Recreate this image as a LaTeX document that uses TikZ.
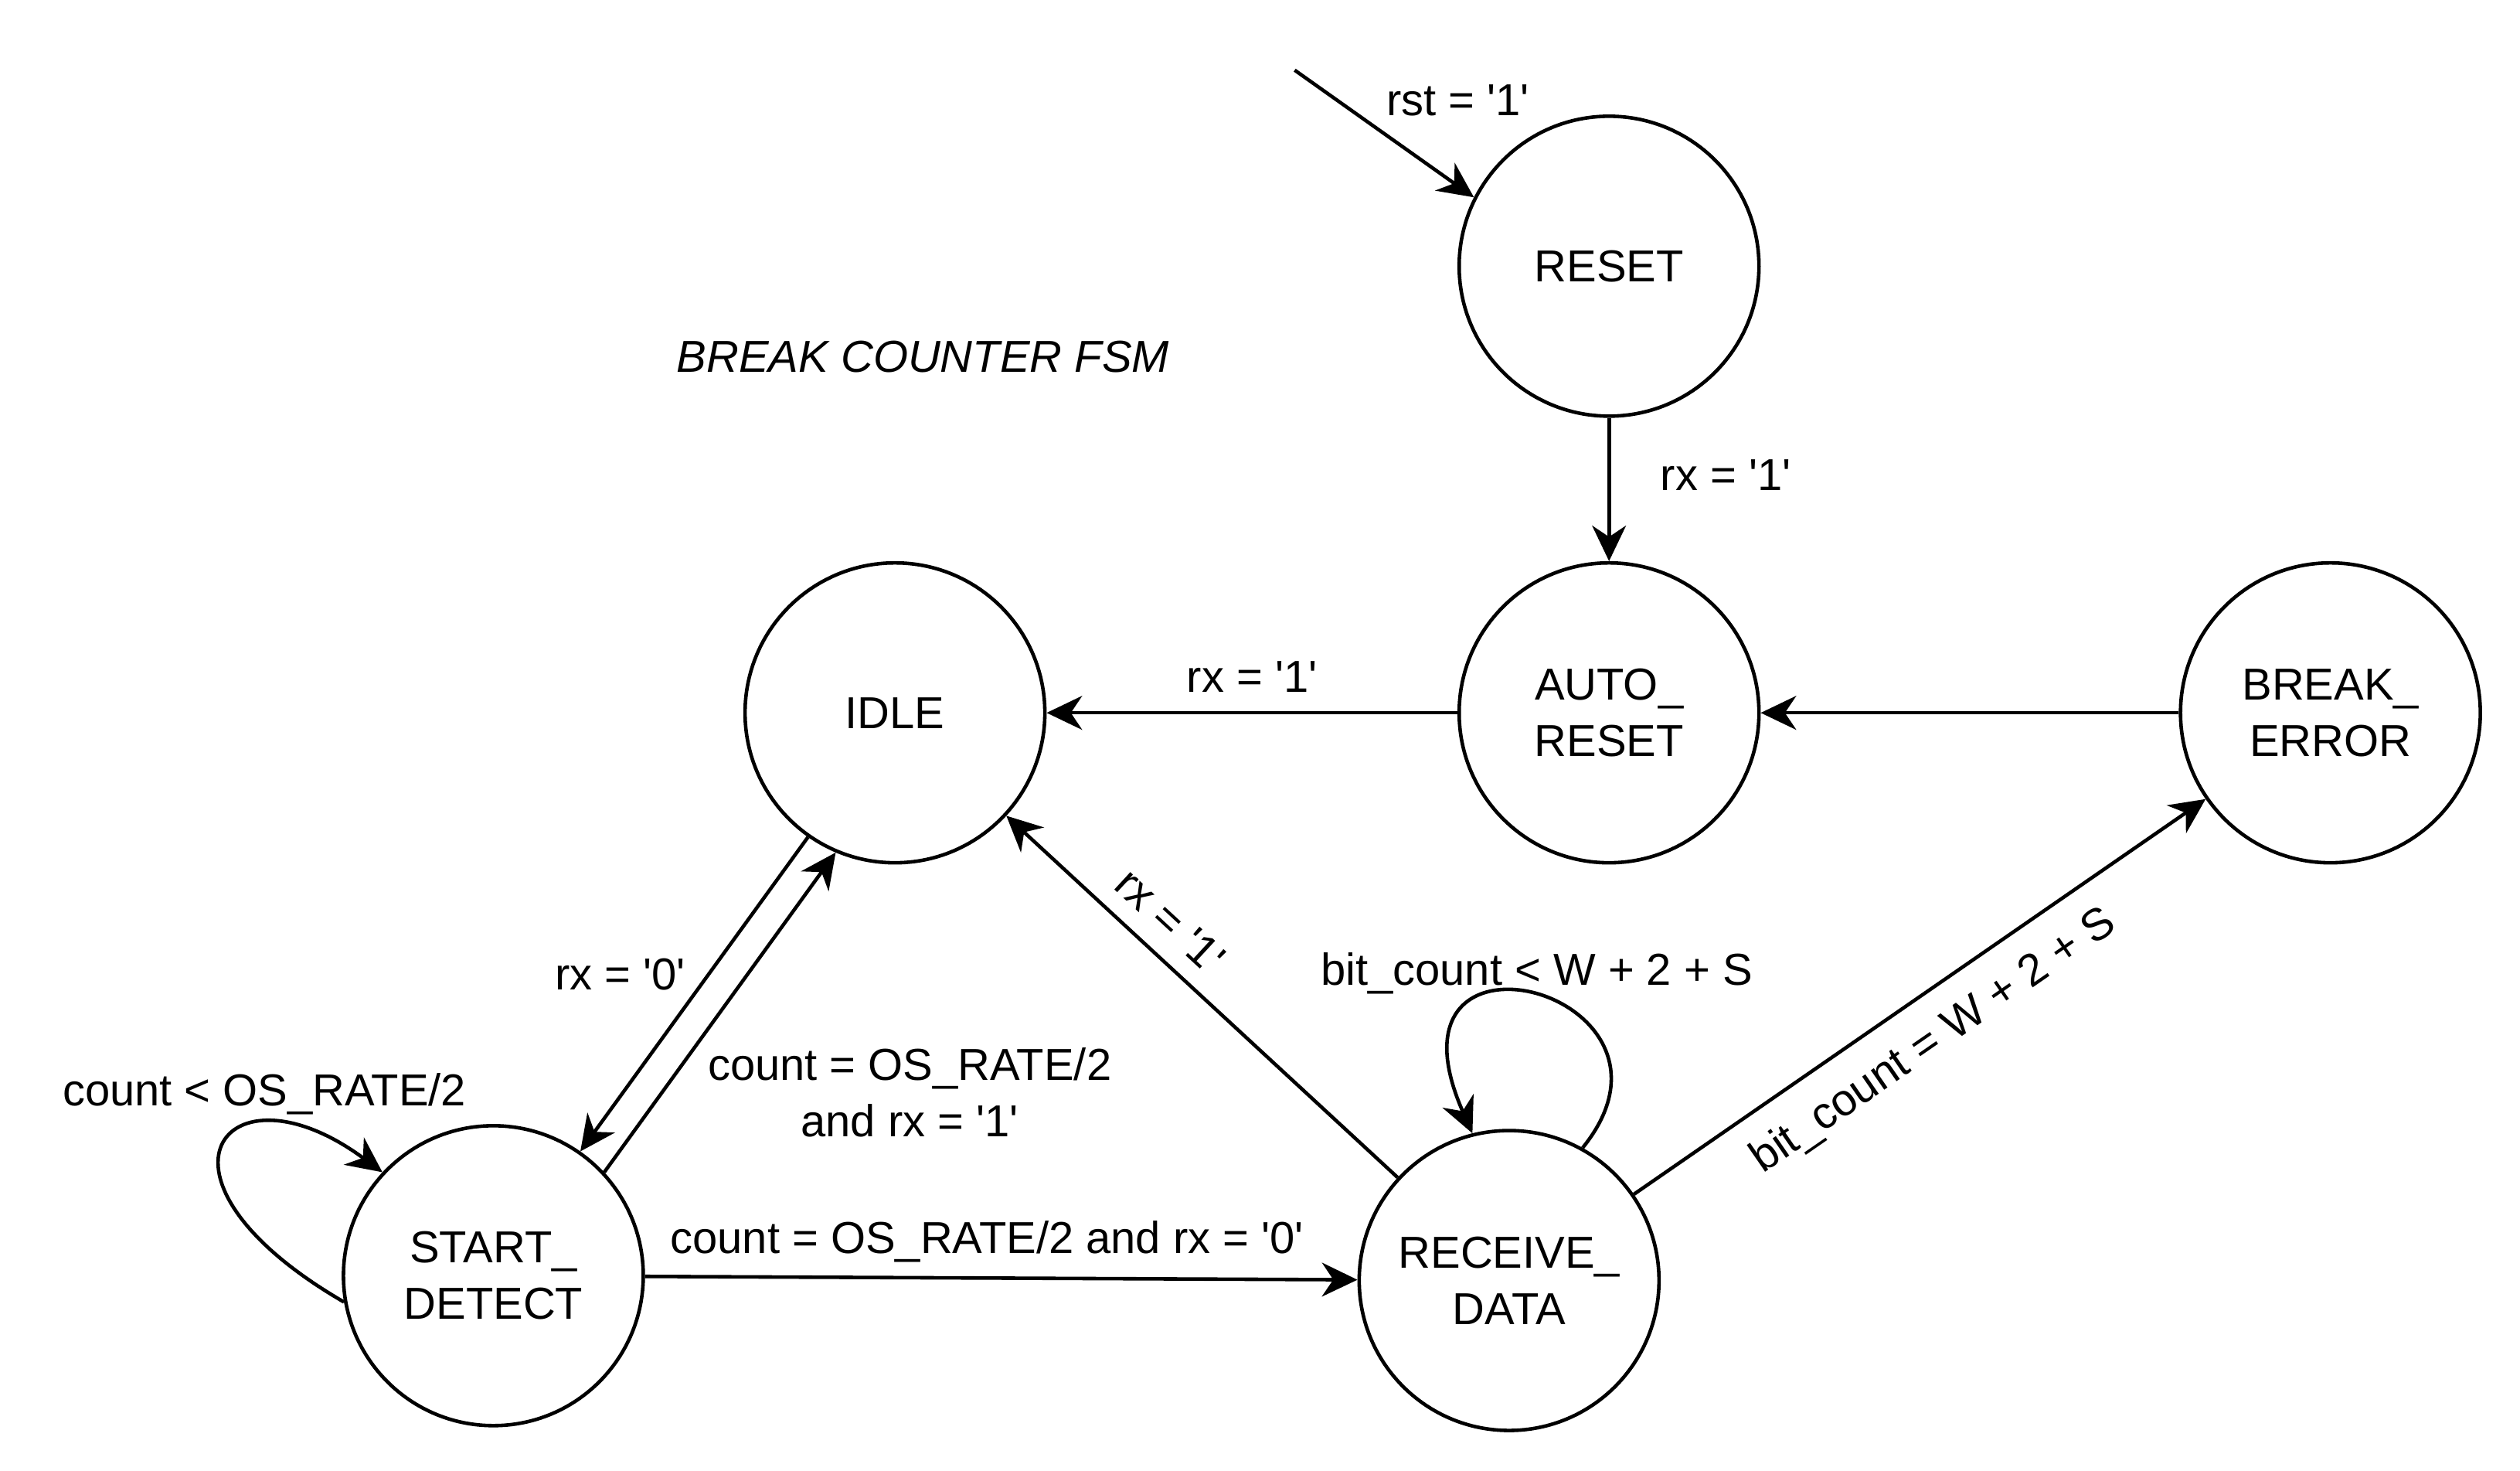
\documentclass[tikz,border=0pt]{standalone}
\usepackage{fontspec}
\setmainfont{Liberation Sans}
\usetikzlibrary{arrows.meta,positioning}
\newcommand{\sq}{\textquotesingle}

\begin{document}
\begin{tikzpicture}[x=0.02cm, y=-0.02cm, node distance=5.54cm, line width=1.25pt,
		font=\fontsize{15.8}{20}\selectfont,
		state/.style = {draw, circle, minimum size=3.72cm, inner sep=0pt, align=center},
		arr/.style = {-{Stealth[length=0.44cm, width=0.42cm, inset=0.14cm]}}]
			\useasboundingbox (0,0) rectangle (1563,912);
			\node (title) at (572.5,221) {\itshape BREAK COUNTER FSM};
			\node[state] (auto) at (998,442) {AUTO\_\\RESET};
			\node[state] (reset) [above of=auto] {RESET};
			\node[state] (idle) [left of=auto, node distance=8.86cm] {IDLE};
			\node[state] (brk) [right of=auto, node distance=8.95cm] {BREAK\_\\ERROR};
			\node[state] (start) at (306,791) {START\_\\DETECT};
			\node[state] (recv) at (936,794) {RECEIVE\_\\DATA};
			\coordinate (init) at (803,43.5);
			\draw[arr] (init) -- (reset.153) node[pos=0.45, above right] {rst = \sq1\sq};
			\draw[arr] (reset) -- (auto) node[pos=0.4, right=0.5cm] {rx = \sq1\sq};
			\draw[arr] (auto) -- (idle) node[midway, above=0.12cm] {rx = \sq1\sq};
			\draw[arr] (brk) -- (auto);
			\draw[arr] (idle.235) -- (start.55) node[pos=0.436, left=0.15cm] {rx = \sq0\sq};
			\draw[arr] (start.43) -- (idle.247) node[pos=0.25, right=0.43cm, align=center] {count = OS\_RATE/2\\and rx = \sq1\sq};
			\draw[arr] (start) -- (recv) node[pos=0.48, above=1.5pt] {count = OS\_RATE/2 and rx = \sq0\sq};
			\draw[arr] (recv) -- (idle) node[pos=0.64, sloped, above, inner sep=6pt] {rx = \sq1\sq};
			\draw[arr] (recv) -- (brk) node[pos=0.48, sloped, below, inner sep=8pt] {bit\_count = W + 2 + S};
			% self loops
			\draw[arr] (start.190) .. controls (80,730) and (140,655) .. (start.137) node[pos=0.7, above] {count < OS\_RATE/2};
			\draw[arr] (recv.61) .. controls (1060,615) and (850,560) .. (recv.104) node[pos=0.5, above, inner sep=0pt] {bit\_count < W + 2 + S};
		\end{tikzpicture}
\end{document}
